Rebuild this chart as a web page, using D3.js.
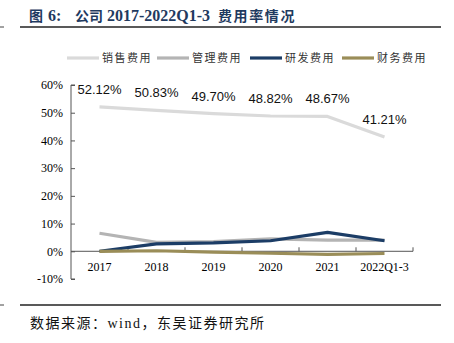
<!DOCTYPE html>
<html>
    <head>
        <meta charset="utf-8">
        <title></title>
        <style>
         body { margin: 0; background: #fff; }
         .axis path, .axis line { stroke: #555; }
         .axis text { font-family: "Liberation Serif", "Times New Roman", serif; font-size: 12px; fill: #000; }
        </style>
    </head>
    <body>
        <svg width="454" height="343"></svg>

        <script src="https://cdn.jsdelivr.net/npm/d3@7/dist/d3.min.js"></script>
        <script>

         var years = ['2017', '2018', '2019', '2020', '2021', '2022Q1-3'];
         var sales = [52.12, 50.83, 49.70, 48.82, 48.67, 41.21];
         var admin = [6.5, 3.2, 3.5, 4.5, 4.0, 4.0];
         var rnd = [0.0, 2.7, 3.0, 3.8, 6.8, 3.8];
         var finance = [0.0, 0.2, -0.3, -0.7, -1.1, -0.8];
         var yTicks = [-10, 0, 10, 20, 30, 40, 50, 60];

         var series = [
             { name: '销售费用', values: sales, color: '#dadada' },
             { name: '管理费用', values: admin, color: '#b4b4b4' },
             { name: '研发费用', values: rnd, color: '#1c3d66' },
             { name: '财务费用', values: finance, color: '#9a8d58' }
         ];

         var svg = d3.select('svg');

         // title pieces, each placed on its own (CJK a little smaller than latin)
         var titleParts = [
             { t: '图', x: 29, cjk: true, sp: 0 },
             { t: '6:', x: 48, cjk: false, sp: 0 },
             { t: '公司', x: 75, cjk: true, sp: 0 },
             { t: '2017-2022Q1-3', x: 107, cjk: false, sp: 0 },
             { t: '费用率情况', x: 218, cjk: true, sp: 1.6 }
         ];
         svg.append('text')
            .attr('y', 21)
            .attr('font-family', '"Liberation Serif", "Noto Sans CJK SC", serif')
            .attr('font-weight', 'bold')
            .attr('fill', '#1f3a60')
            .selectAll('tspan')
            .data(titleParts)
            .enter()
            .append('tspan')
            .attr('x', function(d) { return d.x; })
            .attr('font-size', function(d) { return d.cjk ? 14 : 16; })
            .attr('letter-spacing', function(d) { return d.sp; })
            .text(function(d) { return d.t; });

         svg.append('line').attr('x1', 20).attr('x2', 441).attr('y1', 27).attr('y2', 27)
            .attr('stroke', '#222').attr('stroke-width', 1.5);
         svg.append('line').attr('x1', 20).attr('x2', 441).attr('y1', 305).attr('y2', 305)
            .attr('stroke', '#222').attr('stroke-width', 1.5);
         svg.append('line').attr('x1', 0).attr('x2', 4).attr('y1', 27).attr('y2', 27).attr('stroke', '#444');
         svg.append('line').attr('x1', 0).attr('x2', 4).attr('y1', 305).attr('y2', 305).attr('stroke', '#444');

         svg.append('text')
            .attr('x', 30).attr('y', 328)
            .attr('font-family', '"Liberation Serif", "Noto Sans CJK SC", serif')
            .attr('font-size', 14)
            .attr('letter-spacing', 1.5)
            .attr('fill', '#111')
            .text('数据来源：wind，东吴证券研究所');

         // scales
         var x = d3.scaleBand().domain(years).range([71, 413]);
         var y = d3.scaleLinear().domain([-10, 60]).range([279, 85]);

         // y axis, ticks pointing inward
         svg.append('g')
            .attr('class', 'axis')
            .attr('transform', 'translate(71,0)')
            .call(d3.axisRight(y).tickValues(yTicks).tickSize(4).tickFormat(function(d) { return d + '%'; }))
            .call(function(g) {
                g.select('.domain').attr('d', 'M4,' + y(60) + 'H0V' + y(-10) + 'H4');
                g.selectAll('text').attr('x', -8).attr('text-anchor', 'end');
            });

         // x axis along 0%, boundary ticks pointing up
         var xg = svg.append('g')
            .attr('class', 'axis')
            .attr('transform', 'translate(0,' + y(0) + ')');
         xg.append('line').attr('x1', 71).attr('x2', 413).attr('y1', 0).attr('y2', 0);
         xg.selectAll('.tk')
           .data(d3.range(1, years.length + 1))
           .enter().append('line')
           .attr('x1', function(i) { return 71 + i * x.step(); })
           .attr('x2', function(i) { return 71 + i * x.step(); })
           .attr('y1', 0).attr('y2', -4);
         xg.selectAll('text')
           .data(years)
           .enter().append('text')
           .attr('x', function(d) { return x(d) + x.bandwidth() / 2; })
           .attr('y', 20)
           .attr('text-anchor', 'middle')
           .text(function(d) { return d; });

         // lines
         var line = d3.line()
                      .x(function(d, i) { return x(years[i]) + x.bandwidth() / 2; })
                      .y(function(d) { return y(d); });

         svg.append('g')
            .selectAll('path')
            .data(series)
            .enter()
            .append('path')
            .attr('d', function(s) { return line(s.values); })
            .attr('fill', 'none')
            .attr('stroke', function(s) { return s.color; })
            .attr('stroke-width', 3.2)
            .attr('stroke-linejoin', 'round');

         // value labels for 销售费用
         svg.append('g')
            .selectAll('text')
            .data(sales)
            .enter()
            .append('text')
            .attr('x', function(d, i) { return x(years[i]) + x.bandwidth() / 2; })
            .attr('y', function(d) { return y(d) - 13; })
            .attr('text-anchor', 'middle')
            .attr('font-family', '"Liberation Sans", Arial, sans-serif')
            .attr('font-size', 13)
            .attr('fill', '#111')
            .text(function(d) { return d.toFixed(2) + '%'; });

         // legend
         var legendX = [67, 157, 250, 342];
         var lg = svg.append('g')
                     .selectAll('g')
                     .data(series)
                     .enter()
                     .append('g')
                     .attr('transform', function(s, i) { return 'translate(' + legendX[i] + ',58)'; });
         lg.append('line')
           .attr('x1', 0).attr('x2', 32).attr('y1', 0).attr('y2', 0)
           .attr('stroke', function(s) { return s.color; })
           .attr('stroke-width', 3.2);
         lg.append('text')
           .attr('x', 35).attr('y', 4)
           .attr('font-family', '"Noto Sans CJK SC", sans-serif')
           .attr('font-size', 11)
           .attr('letter-spacing', 1.5)
           .attr('fill', '#333')
           .text(function(s) { return s.name; });

        </script>
    </body>
</html>
